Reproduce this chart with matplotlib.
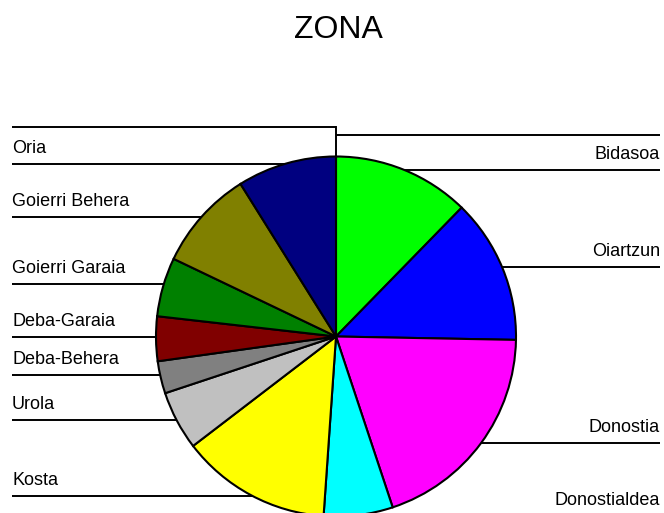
import numpy as np
import matplotlib
matplotlib.use("Agg")
import matplotlib.pyplot as plt

# ---- data ----
labels = ["Bidasoa", "Oiartzun", "Donostia", "Donostialdea", "Kosta", "Urola",
          "Deba-Behera", "Deba-Garaia", "Goierri Garaia", "Goierri Behera", "Oria"]
values = [12.3, 13.0, 19.6, 6.2, 13.5, 5.3, 2.9, 4.0, 5.3, 9.0, 8.9]
colors = ["#00FF00", "#0000FF", "#FF00FF", "#00FFFF", "#FFFF00", "#C0C0C0",
          "#808080", "#800000", "#008000", "#808000", "#000080"]
title = "ZONA"

# ---- layout (pixel coordinates, y measured from top) ----
W, H = 664, 513
CX, CY, R = 336, 336.5, 180
left_labels = {"Oria": 164, "Goierri Behera": 217, "Goierri Garaia": 284,
               "Deba-Garaia": 337, "Deba-Behera": 375, "Urola": 420, "Kosta": 496}
right_labels = {"Bidasoa": 170, "Oiartzun": 267, "Donostia": 443, "Donostialdea": 516}
XL, XR = 12, 660

plt.rcParams['font.family'] = ['Liberation Sans', 'DejaVu Sans']

fig = plt.figure(figsize=(W / 100, H / 100), dpi=100)
ax = fig.add_axes([0, 0, 1, 1])

def py(y):
    return H - y

ax.pie(values, colors=colors, startangle=90, counterclock=False,
       center=(CX, py(CY)), radius=R,
       wedgeprops=dict(edgecolor="black", linewidth=1.5))
ax.set_xlim(0, W)
ax.set_ylim(0, H)
ax.set_aspect("auto")
ax.axis("off")

lw = 1.4
# top bracket
ax.plot([XL, CX], [py(127), py(127)], color="black", lw=lw, solid_capstyle="butt")
ax.plot([CX, CX], [py(127), py(CY - R)], color="black", lw=lw)
ax.plot([CX, XR], [py(135), py(135)], color="black", lw=lw, solid_capstyle="butt")

for name, yl in left_labels.items():
    dy = yl - CY
    xe = CX - np.sqrt(max(R**2 - dy**2, 0))
    ax.plot([XL, xe], [py(yl), py(yl)], color="black", lw=lw, solid_capstyle="butt")
    ax.text(XL, py(yl - 11), name, ha="left", va="baseline", fontsize=13)

for name, yl in right_labels.items():
    dy = yl - CY
    xe = CX + np.sqrt(max(R**2 - dy**2, 0))
    ax.plot([xe, XR], [py(yl), py(yl)], color="black", lw=lw, solid_capstyle="butt")
    ax.text(XR, py(yl - 11), name, ha="right", va="baseline", fontsize=13)

ax.text(338, py(37.7), title, ha="center", va="baseline", fontsize=23)

fig.savefig("out.png", dpi=100)
